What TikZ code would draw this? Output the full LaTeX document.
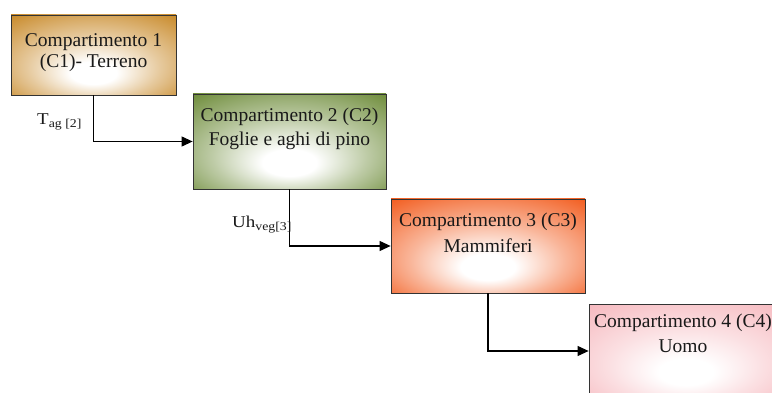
\documentclass[tikz,border=0pt]{standalone}
\usepackage{fontspec}
\setmainfont{Liberation Serif}
\usetikzlibrary{arrows.meta}

% fill colours of the four compartments
\definecolor{soilcol}{RGB}{200,137,40}
\definecolor{leafcol}{RGB}{110,140,58}
\definecolor{mammcol}{RGB}{242,92,30}
\definecolor{mancol}{RGB}{246,184,190}
\definecolor{inkcol}{RGB}{25,25,25}

% white glow in the lower middle, fading out to the box colour
\colorlet{boxcol}{white}
\pgfdeclareradialshading[boxcol]{boxglow}{\pgfpoint{0bp}{-13bp}}{%
  color(0bp)=(white); color(7bp)=(white); color(20bp)=(boxcol!45!white);
  color(38bp)=(boxcol); color(50bp)=(boxcol)}

\tikzset{
  compbox/.style={rectangle, draw=black!80, line width=0.8pt, inner sep=0pt,
    /utils/exec={\colorlet{boxcol}{#1}}, shading=boxglow},
  comptext/.style={inner sep=0pt, text=inkcol, anchor=base,
    font=\fontsize{19.5}{22}\selectfont},
  flowlabel/.style={inner sep=0pt, text=inkcol, anchor=base west,
    font=\fontsize{16.5}{18}\selectfont},
  flow/.style={draw=black, line width=1.1pt, -{Triangle[length=11pt,width=10pt]}},
}

\newcommand{\sublbl}[1]{\raisebox{-3pt}{\fontsize{12}{12}\selectfont #1}}

\begin{document}
\begin{tikzpicture}[x=1pt,y=-1pt]
  \useasboundingbox (0,0) rectangle (772,393);
  \clip (0,0) rectangle (772,393);

  % compartments
  \node[compbox=soilcol, minimum width=165pt, minimum height=80pt] (b1) at (93.5,55) {};
  \node[compbox=leafcol, minimum width=193pt, minimum height=95pt] (b2) at (289.5,141.5) {};
  \node[compbox=mammcol, minimum width=194pt, minimum height=94pt] (b3) at (488,246) {};
  \node[compbox=mancol,  minimum width=194pt, minimum height=94pt] (b4) at (686,351) {};

  % compartment titles
  \node[comptext] (t1a) at ([yshift=-31.5pt]b1.north) {Compartimento 1};
  \node[comptext] (t1b) at ([yshift=-53pt]b1.north) {(C1)- Terreno};
  \node[comptext] (t2a) at ([yshift=-28pt]b2.north) {Compartimento 2 (C2)};
  \node[comptext] (t2b) at ([yshift=-52pt]b2.north) {Foglie e aghi di pino};
  \node[comptext] (t3a) at ([yshift=-28pt]b3.north) {Compartimento 3 (C3)};
  \node[comptext] (t3b) at ([yshift=-54pt]b3.north) {Mammiferi};
  \node[comptext] (t4a) at ([xshift=-3pt,yshift=-24pt]b4.north) {Compartimento 4 (C4)};
  \node[comptext] (t4b) at ([xshift=-3pt,yshift=-49pt]b4.north) {Uomo};

  % transfers between compartments
  \draw[flow] (b1.south) |- (b2.west);
  \draw[flow] (b2.south) |- (b3.west);
  \draw[flow] (b3.south) |- (b4.west);

  % transfer labels
  \node[flowlabel] (l12) at (37,125) {\scalebox{1.15}[1]{T\sublbl{ag [2]}}};
  \node[flowlabel] (l23) at (232,228) {\scalebox{1.15}[1]{Uh\sublbl{veg[3]}}};
\end{tikzpicture}
\end{document}
